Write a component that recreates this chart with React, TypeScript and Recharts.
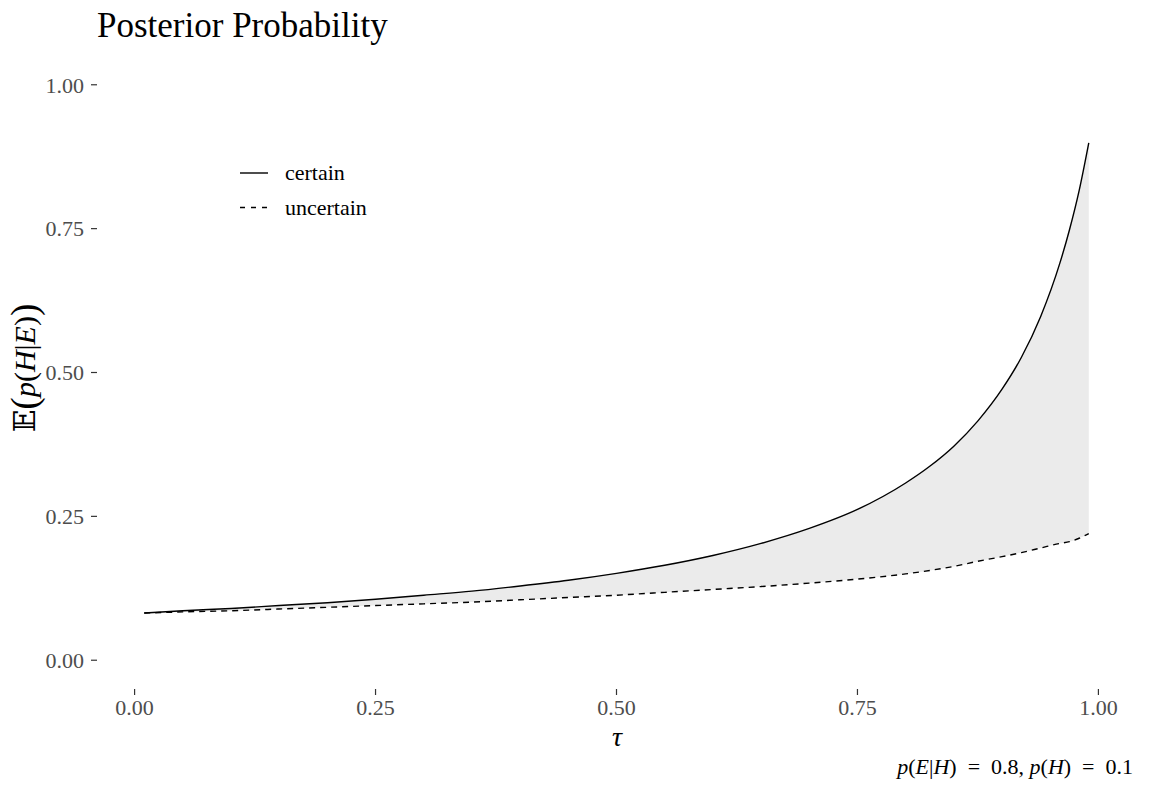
import { ComposedChart, Area, Line, XAxis, YAxis } from "recharts";

// tau grid and the two expectations
const TAU = [
  0.01, 0.05, 0.1, 0.15, 0.2, 0.25, 0.3, 0.35, 0.4, 0.45, 0.5, 0.55, 0.6, 0.65,
  0.7, 0.75, 0.8, 0.825, 0.85, 0.875, 0.9, 0.92, 0.94, 0.96, 0.97, 0.98, 0.99,
];
const CERTAIN = [
  0.082, 0.086, 0.09, 0.095, 0.1, 0.106, 0.113, 0.12, 0.129, 0.139, 0.151,
  0.165, 0.182, 0.203, 0.229, 0.262, 0.308, 0.337, 0.372, 0.416, 0.471, 0.526,
  0.597, 0.69, 0.748, 0.816, 0.899,
];
const UNCERTAIN = [
  0.082, 0.084, 0.086, 0.089, 0.092, 0.095, 0.098, 0.101, 0.105, 0.109, 0.113,
  0.118, 0.123, 0.128, 0.134, 0.141, 0.15, 0.156, 0.163, 0.172, 0.18, 0.187,
  0.195, 0.203, 0.206, 0.212, 0.22,
];
const TICKS = [0, 0.25, 0.5, 0.75, 1];
const SERIES = [
  { key: "certain", label: "certain", dash: undefined },
  { key: "uncertain", label: "uncertain", dash: "6 5" },
];

const data = TAU.map((t, i) => ({
  tau: t,
  certain: CERTAIN[i],
  uncertain: UNCERTAIN[i],
  band: [UNCERTAIN[i], CERTAIN[i]],
}));

const FONT = "'Liberation Serif', 'DejaVu Serif', serif";
const tickStyle = { fill: "#4D4D4D", fontSize: 22, fontFamily: FONT };
const fmt = (v: number) => v.toFixed(2);
const EQ = "\u2002=\u2002";

export default function App() {
  return (
    <div
      style={{
        position: "absolute",
        left: 0,
        top: 0,
        width: 1149,
        height: 785,
        background: "#fff",
        fontFamily: FONT,
      }}
    >
      <ComposedChart
        width={1149}
        height={785}
        data={data}
        margin={{ top: 56, right: 13, bottom: 56, left: 7 }}
      >
        <XAxis
          type="number"
          dataKey="tau"
          domain={[-0.039, 1.039]}
          ticks={TICKS}
          tickFormatter={fmt}
          allowDataOverflow
          axisLine={false}
          tickLine={{ stroke: "#333333", strokeWidth: 1.2 }}
          tickSize={6}
          tickMargin={4}
          height={40}
          tick={tickStyle}
        />
        <YAxis
          type="number"
          domain={[-0.05, 1.05]}
          ticks={TICKS}
          tickFormatter={fmt}
          allowDataOverflow
          axisLine={false}
          tickLine={{ stroke: "#333333", strokeWidth: 1.2 }}
          tickSize={6}
          tickMargin={7}
          width={90}
          tick={tickStyle}
        />
        <Area
          type="monotone"
          dataKey="band"
          fill="#EBEBEB"
          fillOpacity={1}
          stroke="none"
          legendType="none"
          isAnimationActive={false}
        />
        {SERIES.map((s) => (
          <Line
            key={s.key}
            type="monotone"
            dataKey={s.key}
            stroke="#000"
            strokeWidth={1.4}
            strokeDasharray={s.dash}
            dot={false}
            isAnimationActive={false}
          />
        ))}
      </ComposedChart>

      <svg
        width={1149}
        height={785}
        style={{ position: "absolute", left: 0, top: 0, pointerEvents: "none" }}
        fontFamily={FONT}
      >
        <text x={97} y={37} fontSize={35} fill="#000">
          Posterior Probability
        </text>

        {SERIES.map((s, i) => {
          const y = 173 + i * 34.5;
          return (
            <g key={s.key}>
              <line
                x1={240}
                x2={268}
                y1={y}
                y2={y}
                stroke="#000"
                strokeWidth={1.4}
                strokeDasharray={s.dash ? "5 6" : undefined}
              />
              <text x={285} y={y + 7} fontSize={22} fill="#000">
                {s.label}
              </text>
            </g>
          );
        })}

        <text
          x={24}
          y={368}
          fontSize={30}
          fill="#000"
          textAnchor="middle"
          dominantBaseline="central"
          transform="rotate(-90 24 368)"
        >
          <tspan>𝔼</tspan>
          <tspan fontSize={37}>(</tspan>
          <tspan fontStyle="italic">p</tspan>
          <tspan>(</tspan>
          <tspan fontStyle="italic">H</tspan>
          <tspan>|</tspan>
          <tspan fontStyle="italic">E</tspan>
          <tspan>)</tspan>
          <tspan fontSize={37}>)</tspan>
        </text>

        <text x={617} y={746} fontSize={28} fontStyle="italic" textAnchor="middle" fill="#000">
          τ
        </text>

        <text x={1133} y={774} fontSize={22} textAnchor="end" fill="#000">
          <tspan fontStyle="italic">p</tspan>
          <tspan>(</tspan>
          <tspan fontStyle="italic">E</tspan>
          <tspan>|</tspan>
          <tspan fontStyle="italic">H</tspan>
          <tspan>{")" + EQ + "0.8, "}</tspan>
          <tspan fontStyle="italic">p</tspan>
          <tspan>(</tspan>
          <tspan fontStyle="italic">H</tspan>
          <tspan>{")" + EQ + "0.1"}</tspan>
        </text>
      </svg>
    </div>
  );
}
